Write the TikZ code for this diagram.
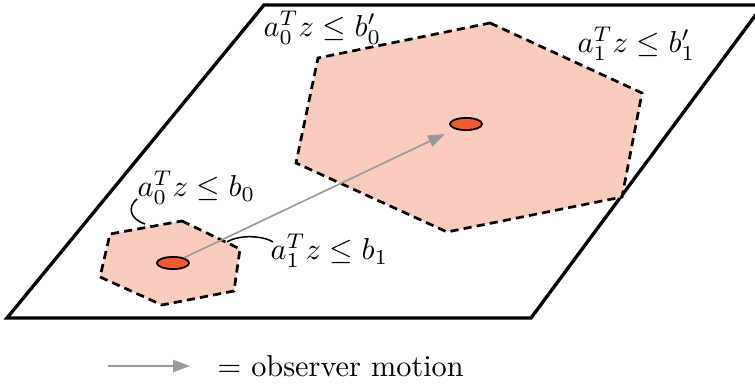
\documentclass[tikz,border=0pt]{standalone}
\usetikzlibrary{arrows.meta,shapes.geometric}
\definecolor{hexfill}{RGB}{249,204,189}
\definecolor{dotfill}{RGB}{241,90,41}
\definecolor{motiongray}{RGB}{153,153,153}
\begin{document}
\begin{tikzpicture}[x=0.33pt,y=-0.33pt,
  plane/.style={line width=1.1pt, line join=miter},
  region/.style={fill=hexfill, draw=black, line width=0.9pt, dash pattern=on 2.7pt off 1.7pt},
  spot/.style={ellipse, draw=black, fill=dotfill, line width=0.6pt, minimum width=10.6pt, minimum height=4pt, inner sep=0pt},
  motion/.style={draw=motiongray, line width=0.55pt, -{Triangle[length=5.6pt,width=4pt]}},
  lbl/.style={inner sep=0pt, anchor=base west},
  leader/.style={draw=black, line width=0.5pt}
]
\useasboundingbox (0,0) rectangle (755,387);
\begin{scope}
  \clip (0,0) rectangle (755,387);
  \draw[plane] (7,318) -- (264,5) -- (763,5) -- (531,318) -- cycle;
\end{scope}
% regions
\draw[region] (490,23) -- (642,93) -- (622,197) -- (447,232) -- (296,163) -- (318,58) -- cycle;
\draw[region] (182,221) -- (240,249) -- (234,291) -- (162,305) -- (100,277) -- (110,234) -- cycle;
% observer positions
\node[spot] (s) at (173,263) {};
\node[spot] (g) at (466,124) {};
\draw[motion, shorten >=3.6pt] (s) -- (g);
% labels
\node[lbl] (l0p) at (263,37) {$a_0^Tz\le b_0'$};
\node[lbl] (l1p) at (577,53) {$a_1^Tz\le b_1'$};
\node[lbl] (l0) at (137,197) {$a_0^Tz\le b_0$};
\node[lbl] (l1) at (270,260) {$a_1^Tz\le b_1$};
% leaders
\coordinate (e0) at (145,224);
\coordinate (e1) at (227,242);
\draw[leader] ([shift={(0,2)}]l0.base west) .. controls (127,207) and (130,219) .. (e0);
\draw[leader] ([shift={(3,-18)}]l1.base west) .. controls (264,236) and (240,234) .. (e1);
% legend
\coordinate (la) at (108,366);
\coordinate (lb) at (190,366);
\draw[motion] (la) -- (lb);
\node[lbl] (leg) at (217,377) {$=$ observer motion};
\end{tikzpicture}
\end{document}
